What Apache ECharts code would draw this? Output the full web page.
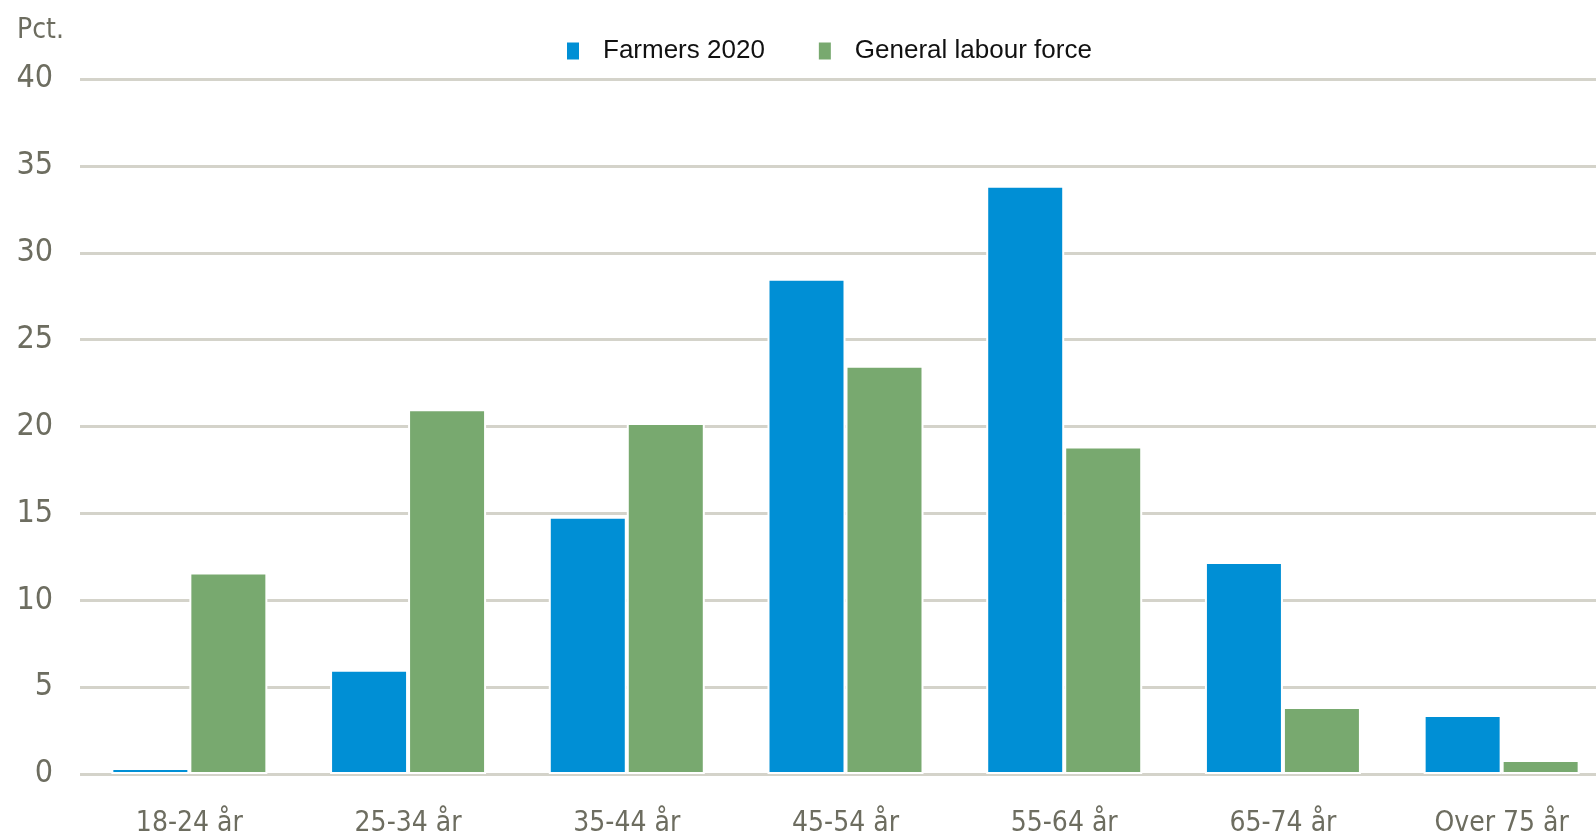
<!DOCTYPE html>
<html>
<head>
<meta charset="utf-8">
<script src="https://cdn.jsdelivr.net/npm/echarts@6/dist/echarts.min.js"></script>
<style>
html,body{margin:0;padding:0;background:#fff;}
#chart{width:1596px;height:838px;}
</style>
</head>
<body>
<div id="chart"></div>
<script>
const categories = ['18-24 år', '25-34 år', '35-44 år', '45-54 år', '55-64 år', '65-74 år', 'Over 75 år'];
const farmers2020 = [0.35, 6.0, 14.8, 28.5, 33.85, 12.2, 3.4];
const generalLabourForce = [11.6, 21.0, 20.2, 23.5, 18.85, 3.85, 0.8];
const seriesNames = ['Farmers 2020', 'General labour force'];
const yUnit = 'Pct.';

const axisFont = "'DejaVu Sans Condensed', 'DejaVu Sans', sans-serif";
const textGray = '#6d6d60';

const chart = echarts.init(document.getElementById('chart'));
chart.setOption({
  animation: false,
  backgroundColor: '#ffffff',
  title: {
    text: yUnit,
    left: 12,
    top: 12,
    textStyle: { fontFamily: axisFont, fontSize: 28, fontWeight: 'normal', color: textGray }
  },
  legend: {
    data: seriesNames,
    left: 560,
    top: 33,
    itemWidth: 14,
    itemHeight: 19,
    itemGap: 52,
    icon: 'rect',
    textStyle: {
      fontFamily: "'Liberation Sans', Arial, sans-serif",
      fontSize: 26,
      color: '#111111',
      padding: [0, 0, 14, 18]
    }
  },
  grid: { left: 80, right: -15, top: 79, bottom: 64, containLabel: false, outerBoundsMode: 'none' },
  xAxis: {
    type: 'category',
    data: categories,
    axisLine: { show: false },
    axisTick: { show: false },
    axisLabel: {
      fontFamily: axisFont,
      fontSize: 28,
      color: textGray,
      margin: 36
    }
  },
  yAxis: {
    type: 'value',
    min: 0,
    max: 40,
    interval: 5,
    axisLine: { show: false },
    axisTick: { show: false },
    axisLabel: {
      fontFamily: axisFont,
      fontSize: 32,
      color: textGray,
      margin: 27
    },
    splitLine: { lineStyle: { color: '#d4d3ca', width: 3 } }
  },
  series: [
    {
      name: seriesNames[0],
      type: 'bar',
      data: farmers2020,
      barWidth: 78,
      barGap: '0%',
      itemStyle: { color: '#008fd5', borderColor: '#ffffff', borderWidth: 2 }
    },
    {
      name: seriesNames[1],
      type: 'bar',
      data: generalLabourForce,
      barWidth: 78,
      barGap: '0%',
      itemStyle: { color: '#78a96f', borderColor: '#ffffff', borderWidth: 2 }
    }
  ]
});
</script>
</body>
</html>
